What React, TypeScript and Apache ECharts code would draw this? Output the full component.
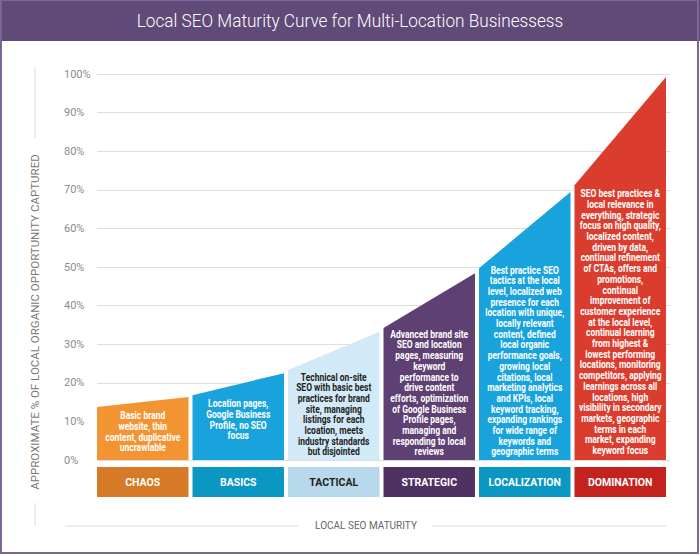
import React, { useEffect, useRef } from "react";
import * as echarts from "echarts";

const stages = ["CHAOS", "BASICS", "TACTICAL", "STRATEGIC", "LOCALIZATION", "DOMINATION"];
// curve height (% of opportunity) at the left and right edge of each stage column
const topLeft = [13.7, 16.8, 23.3, 34.2, 49.7, 71.2];
const topRight = [16.3, 22.5, 33.2, 48.4, 69.4, 99.2];
const descriptions = [
  "Basic brand\nwebsite, thin\ncontent, duplicative\nuncrawlable",
  "Location pages,\nGoogle Business\nProfile, no SEO\nfocus",
  "Technical on-site\nSEO with basic best\npractices for brand\nsite, managing\nlistings for each\nlcoation, meets\nindustry standards\nbut disjointed",
  "Advanced brand site\nSEO and location\npages, measuring\nkeyword\nperformance to\ndrive content\nefforts, optimization\nof Google Business\nProfile pages,\nmanaging and\nresponding to local\nreviews",
  "Best practice SEO\ntactics at the local\nlevel, localized web\npresence for each\nlocation with unique,\nlocally relevant\ncontent, defined\nlocal organic\nperformance goals,\ngrowing local\ncitations, local\nmarketing analytics\nand KPIs, local\nkeyword tracking,\nexpanding rankings\nfor wide range of\nkeywords and\ngeographic terms",
  "SEO best practices &\nlocal relevance in\neverything, strategic\nfocus on high quality,\nlocalized content,\ndriven by data,\ncontinual refinement\nof CTAs, offers and\npromotions,\ncontinual\nimprovement of\ncustomer experience\nat the local level,\ncontinual learning\nfrom highest &\nlowest performing\nlocations, monitoring\ncompetitors, applying\nlearnings across all\nlocations, high\nvisibility in secondary\nmarkets, geographic\nterms in each\nmarket, expanding\nkeyword focus",
];
const yTickValues = [0, 10, 20, 30, 40, 50, 60, 70, 80, 90, 100];

const columnColors = ["#f39433", "#18a3dc", "#d2e9f7", "#5e4072", "#18a3dc", "#da3d2e"];
const boxColors = ["#d67a27", "#0a97c2", "#b8d9ec", "#4f3262", "#0a97c2", "#c4221d"];
const textColors = ["#ffffff", "#ffffff", "#231f20", "#ffffff", "#ffffff", "#ffffff"];

const COL_W = 0.958;
const LINE_H = 10.7;

export default function App() {
  const ref = useRef<HTMLDivElement>(null);
  useEffect(() => {
    document.body.style.margin = "0";
    const chart = echarts.init(ref.current!, null, { renderer: "svg" });
    const option: any = {
      animation: false,
      backgroundColor: "#ffffff",
      grid: { left: 97, top: 74, width: 573, height: 386 },
      xAxis: {
        type: "value",
        min: 0,
        max: stages.length,
        show: false,
      },
      yAxis: {
        type: "value",
        min: 0,
        max: 100,
        interval: 10,
        axisLine: { show: false },
        axisTick: { show: false },
        axisLabel: {
          formatter: (v: number) => (yTickValues.includes(v) ? v + "%" : ""),
          align: "left",
          margin: 33,
          color: "#8c8c8c",
          fontSize: 11,
          fontFamily: "Roboto, sans-serif",
        },
        splitLine: { lineStyle: { color: "#dedede", width: 1 } },
      },
      series: [
        {
          type: "custom",
          z: 1,
          silent: true,
          data: [0],
          renderItem: (params: any, api: any) => {
            const pts: number[][] = [];
            const [x0, yb] = api.coord([0, 0]);
            pts.push([x0, yb]);
            for (let i = 0; i < stages.length; i++) {
              const pl = api.coord([i, topLeft[i]]);
              const pr = api.coord([i + COL_W, topRight[i]]);
              pts.push(pl, pr);
            }
            const [xe] = api.coord([stages.length - 1 + COL_W, 0]);
            pts.push([xe, yb]);
            return { type: "polygon", shape: { points: pts }, style: { fill: "#ffffff" } };
          },
        },
        {
          type: "custom",
          z: 2,
          silent: true,
          data: stages.map((_, i) => [i]),
          renderItem: (params: any, api: any) => {
            const i = api.value(0);
            const [xl, yb] = api.coord([i, 0]);
            const [xr] = api.coord([i + COL_W, 0]);
            const ytl = api.coord([i, topLeft[i]])[1];
            const ytr = api.coord([i + COL_W, topRight[i]])[1];
            const cx = (xl + xr) / 2;
            const nLines = descriptions[i].split("\n").length;
            const textTop = Math.min(ytl + 3, yb - 3 - nLines * LINE_H);
            return {
              type: "group",
              children: [
                {
                  type: "polygon",
                  shape: { points: [[xl, yb], [xl, ytl], [xr, ytr], [xr, yb]] },
                  style: { fill: columnColors[i] },
                },
                {
                  type: "text",
                  x: cx,
                  y: textTop,
                  scaleX: 0.85,
                  style: {
                    text: descriptions[i],
                    fill: textColors[i],
                    font: "bold 10px Roboto, sans-serif",
                    align: "center",
                    verticalAlign: "top",
                    lineHeight: LINE_H,
                  },
                },
                {
                  type: "rect",
                  shape: { x: xl, y: yb + 7, width: xr - xl, height: 30 },
                  style: { fill: boxColors[i] },
                },
                {
                  type: "text",
                  x: cx,
                  y: yb + 22,
                  style: {
                    text: stages[i],
                    fill: textColors[i],
                    font: "bold 10.5px Roboto, sans-serif",
                    align: "center",
                    verticalAlign: "middle",
                  },
                },
              ],
            };
          },
        },
      ],
      graphic: [
        { type: "rect", shape: { x: 0, y: 0, width: 700, height: 41 }, style: { fill: "#5f4a78" }, silent: true },
        { type: "rect", shape: { x: 1, y: 0, width: 697, height: 553 }, style: { fill: "none", stroke: "#7b6694", lineWidth: 2 }, silent: true },
        {
          type: "text",
          x: 350,
          y: 21,
          scaleX: 0.955,
          style: {
            text: "Local SEO Maturity Curve for Multi-Location Businessess",
            fill: "#ffffff",
            font: "300 18px Roboto, sans-serif",
            align: "center",
            verticalAlign: "middle",
          },
        },
        { type: "line", shape: { x1: 35, y1: 67, x2: 35, y2: 138 }, style: { stroke: "#dddddd", lineWidth: 1 } },
        { type: "line", shape: { x1: 35, y1: 503, x2: 35, y2: 526 }, style: { stroke: "#dddddd", lineWidth: 1 } },
        {
          type: "text",
          x: 35,
          y: 322,
          rotation: Math.PI / 2,
          style: {
            text: "APPROXIMATE % OF LOCAL ORGANIC OPPORTUNITY CAPTURED",
            fill: "#777777",
            font: "11.5px Roboto, sans-serif",
            align: "center",
            verticalAlign: "middle",
          },
        },
        { type: "line", shape: { x1: 65, y1: 526, x2: 298, y2: 526 }, style: { stroke: "#dddddd", lineWidth: 1 } },
        { type: "line", shape: { x1: 432, y1: 526, x2: 666, y2: 526 }, style: { stroke: "#dddddd", lineWidth: 1 } },
        {
          type: "text",
          x: 366,
          y: 525,
          style: {
            text: "LOCAL SEO MATURITY",
            fill: "#666666",
            font: "10px Roboto, sans-serif",
            align: "center",
            verticalAlign: "middle",
          },
        },
      ],
    };
    chart.setOption(option);
    return () => chart.dispose();
  }, []);
  return <div ref={ref} style={{ position: "fixed", left: 0, top: 0, width: 700, height: 556 }} />;
}
